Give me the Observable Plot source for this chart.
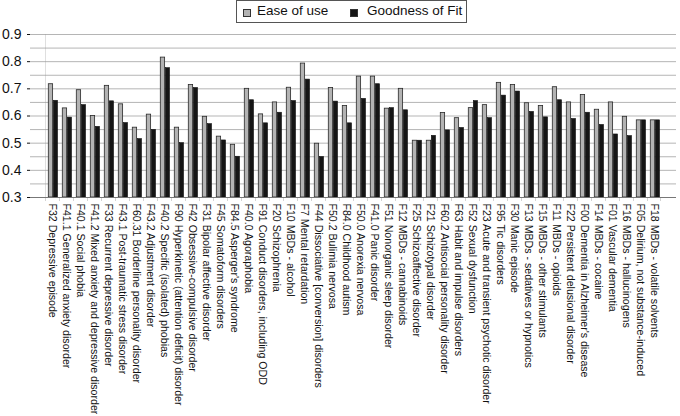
<!DOCTYPE html>
<html><head><meta charset="utf-8">
<script src="https://cdn.jsdelivr.net/npm/d3@7"></script>
<script src="https://cdn.jsdelivr.net/npm/@observablehq/plot@0.6"></script>
<style>
body{margin:0;background:#fff;font-family:"Liberation Sans",Arial,sans-serif}
#wrap{position:relative;width:680px;height:416px}
#legend{position:absolute;left:236px;top:0;width:229px;height:21px;border:1px solid #555;background:#fff;font-size:13.5px;color:#111;box-sizing:content-box}
#legend span.sw{position:absolute;top:8px;width:6px;height:6px;border:1px solid #333}
#legend span.tx{position:absolute;top:2px;white-space:nowrap}
</style></head><body>
<div id="wrap">
<div id="legend">
<span class="sw" style="left:6px;background:#b3b3b3"></span><span class="tx" style="left:20px">Ease of use</span>
<span class="sw" style="left:113px;background:#151515"></span><span class="tx" style="left:130px">Goodness of Fit</span>
</div>
</div>
<script>
const categories = [
"F32 Depressive episode","F41.1 Generalized anxiety disorder","F40.1 Social phobia",
"F41.2 Mixed anxiety and depressive disorder","F33 Recurrent depressive disorder",
"F43.1 Post-traumatic stress disorder","F60.31 Borderline personality disorder",
"F43.2 Adjustment disorder","F40.2 Specific (isolated) phobias",
"F90 Hyperkinetic (attention deficit) disorder","F42 Obsessive-compulsive disorder",
"F31 Bipolar affective disorder","F45 Somatoform disorders","F84.5 Asperger's syndrome",
"F40.0 Agoraphobia","F91 Conduct disorders, including ODD","F20 Schizophrenia",
"F10 MBDs - alcohol","F7 Mental retardation","F44 Dissociative [conversion] disorders",
"F50.2 Bulimia nervosa","F84.0 Childhood autism","F50.0 Anorexia nervosa",
"F41.0 Panic disorder","F51 Nonorganic sleep disorder","F12 MBDs - cannabinoids",
"F25 Schizoaffective disorder","F21 Schizotypal disorder","F60.2 Antisocial personality disorder",
"F63 Habit and impulse disorders","F52 Sexual dysfunction","F23 Acute and transient psychotic disorder",
"F95 Tic disorders","F30 Manic episode","F13 MBDs - sedatives or hypnotics",
"F15 MBDs - other stimulants","F11 MBDs - opioids","F22 Persistent delusional disorder",
"F00 Dementia in Alzheimer's disease","F14 MBDs - cocaine","F01 Vascular dementia",
"F16 MBDs - hallucinogens","F05 Delirium, not substance-induced","F18 MBDs - volatile solvents"
];
const easeOfUse = [0.717,0.628,0.695,0.600,0.711,0.643,0.557,0.605,0.815,0.557,0.714,0.597,0.524,0.494,0.700,0.606,0.650,0.704,0.793,0.498,0.703,0.637,0.745,0.745,0.627,0.700,0.509,0.509,0.611,0.592,0.629,0.640,0.722,0.714,0.647,0.637,0.706,0.650,0.677,0.623,0.650,0.597,0.584,0.584];
const goodnessOfFit = [0.656,0.594,0.640,0.560,0.654,0.574,0.515,0.549,0.776,0.500,0.703,0.570,0.510,0.450,0.658,0.573,0.612,0.655,0.734,0.449,0.653,0.573,0.663,0.717,0.629,0.621,0.509,0.527,0.547,0.556,0.655,0.592,0.675,0.690,0.615,0.595,0.658,0.589,0.612,0.567,0.532,0.526,0.584,0.584];
const yTicks = [0.3,0.4,0.5,0.6,0.7,0.8,0.9];
const gridLines = [0.3,0.35,0.4,0.45,0.5,0.55,0.6,0.65,0.7,0.75,0.8,0.85,0.9];

const ease = categories.map((c,i)=>({category:c, value:easeOfUse[i]}));
const fit = categories.map((c,i)=>({category:c, value:goodnessOfFit[i]}));

const W=680,H=416,ML=30,MR=4,MT=34,MB=219;
const bw=(W-ML-MR)/categories.length;
const base=yTicks[0];
const tickLen=4/((H-MT-MB)/(yTicks[yTicks.length-1]-base));

const chart = Plot.plot({
  width:W, height:H, marginLeft:ML, marginRight:MR, marginTop:MT, marginBottom:MB,
  style:{fontFamily:'"Liberation Sans",Arial,sans-serif', color:"#111", background:"#fff"},
  x:{domain:categories, padding:0, label:null},
  y:{domain:[base, yTicks[yTicks.length-1]], label:null},
  marks:[
    Plot.ruleY(gridLines,{stroke:"#b5b5b5", strokeWidth:1}),
    Plot.barY([categories[0]],{x:d=>d, y1:base, y2:yTicks[yTicks.length-1], insetRight:bw-1, fill:"#9a9a9a"}),
    Plot.barY(categories,{x:d=>d, y1:base, y2:base-tickLen, insetRight:bw-1, fill:"#777"}),
    Plot.barY([categories[categories.length-1]],{x:d=>d, y1:base, y2:base-tickLen, insetLeft:bw-1, fill:"#777"}),
    Plot.barY(ease,{x:"category", y1:base, y2:"value", fill:"#b3b3b3", stroke:"#2a2a2a", strokeWidth:0.8, insetLeft:3.3, insetRight:bw-8.3}),
    Plot.barY(fit,{x:"category", y1:base, y2:"value", fill:"#151515", stroke:"#111", strokeWidth:0.6, insetLeft:8.3, insetRight:bw-13.2}),
    Plot.ruleY([base],{stroke:"#777"}),
    Plot.axisY({ticks:yTicks, tickSize:3, tickPadding:6, fontSize:14, tickFormat:d3.format(".1f")}),
    Plot.axisX({tickRotate:90, tickSize:0, tickPadding:6, fontSize:10.6})
  ]
});
document.getElementById("wrap").prepend(chart);
</script>
</body></html>
